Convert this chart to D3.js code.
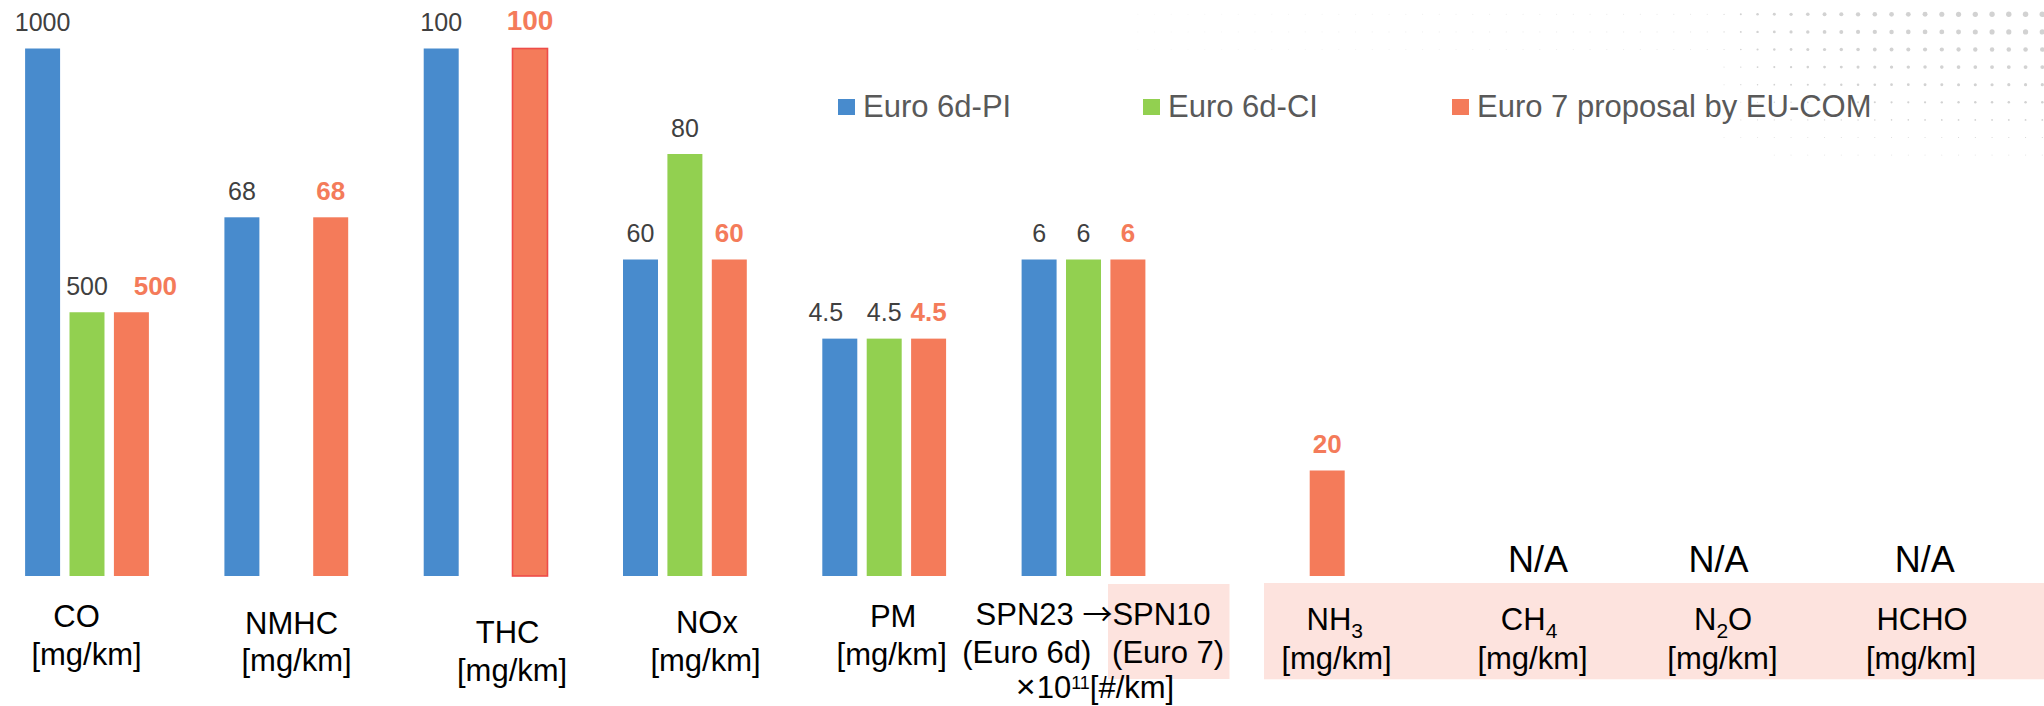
<!DOCTYPE html>
<html>
<head>
<meta charset="utf-8">
<script src="https://cdn.jsdelivr.net/npm/d3@7"></script>
<style>
  html, body { margin: 0; padding: 0; background: #ffffff; }
  svg { display: block; }
  text { font-family: "Liberation Sans", Arial, sans-serif; }
</style>
</head>
<body>
<script>
// ---- data ----
const categories = ["CO", "NMHC", "THC", "NOx", "PM", "SPN", "NH3", "CH4", "N2O", "HCHO"];
const seriesNames = ["Euro 6d-PI", "Euro 6d-CI", "Euro 7 proposal by EU-COM"];
const euro6dPI = [1000, 68, 100, 60, 4.5, 6, null, null, null, null];
const euro6dCI = [500, null, null, 80, 4.5, 6, null, null, null, null];
const euro7    = [500, 68, 100, 60, 4.5, 6, 20, null, null, null];
// full-height value of each category (each pollutant is drawn on its own scale)
const fullScale = [1000, 100, 100, 100, 10, 10, 100, 100, 100, 100];
const notRegulated = ["CH4", "N2O", "HCHO"];

// ---- styling ----
const W = 2044, H = 706;
const colors = ["#488BCD", "#92D050", "#F47B5A"];
const labelColors = ["#404040", "#404040", "#F47B5A"];
const baseY = 576, topY = 48.5;

const svg = d3.select("body").append("svg")
  .attr("width", W).attr("height", H);
svg.append("rect").attr("width", W).attr("height", H).attr("fill", "#fff");

// decorative dot field, top right
const dots = [];
for (let j = 0; j < 10; j++) {
  const y = -3.3 + 17.6 * j;
  for (let i = 0; i < 56; i++) {
    const x = 2042.3 - 16.75 * i;
    const dx = 2100 - x, dy = Math.abs(y - 20);
    const hx = 1 - (dx / 385) * (dx / 385);
    let r = hx > 0 ? 2.9 * Math.sqrt(hx) * Math.max(0, 1 - dy / 148) : 0;
    let op = 1;
    if (r < 0.55) {
      if (r > 0.12) { op = 0.35 + r; r = 0.55; }
      else if (j >= 1 && j <= 3 && x > 1130) {
        r = 0.6; op = 0.12 + 0.4 * (x - 1130) / 600;
      } else continue;
    }
    dots.push({ x, y, r, op });
  }
}
svg.append("g").selectAll("circle").data(dots).join("circle")
  .attr("cx", d => d.x).attr("cy", d => d.y).attr("r", d => d.r)
  .attr("fill", "#d2d2d2").attr("opacity", d => d.op);

// pink backdrop of the new Euro 7 items
const pink = "#FDE3DE";
svg.append("rect").attr("x", 1108).attr("y", 584).attr("width", 121.5).attr("height", 95).attr("fill", pink);
svg.append("rect").attr("x", 1264).attr("y", 583).attr("width", W - 1264).attr("height", 96.3).attr("fill", pink);

// ---- scales ----
const x0 = d3.scaleBand().domain(categories).range([-12.65, 1980.35]);
const x1 = d3.scaleBand().domain(seriesNames)
  .range([x0.bandwidth() / 2 - 66.6, x0.bandwidth() / 2 + 66.6])
  .paddingInner(0.212).paddingOuter(0.106);
const yScales = fullScale.map(m => d3.scaleLinear().domain([0, m]).range([baseY, topY]));

const seriesValues = [euro6dPI, euro6dCI, euro7];
const bars = [];
seriesValues.forEach((vals, si) => {
  vals.forEach((v, ci) => {
    if (v == null) return;
    bars.push({ si, ci, cat: categories[ci], s: seriesNames[si], v });
  });
});

// bars
const outlineRed = { "Euro 7 proposal by EU-COM|THC": "#EE4C48" };
svg.append("g").selectAll("rect").data(bars).join("rect")
  .attr("x", d => x0(d.cat) + x1(d.s))
  .attr("width", x1.bandwidth())
  .attr("y", d => yScales[d.ci](d.v))
  .attr("height", d => baseY - yScales[d.ci](d.v))
  .attr("fill", d => colors[d.si])
  .attr("stroke", d => outlineRed[d.s + "|" + d.cat] || "none")
  .attr("stroke-width", 1.6);

// value labels
const labelNudge = {
  "Euro 7 proposal by EU-COM|CO": { dx: 24 },
  "Euro 6d-PI|PM": { dx: -14 },
  "Euro 7 proposal by EU-COM|THC": { size: 28, dy: -1 }
};
svg.append("g").selectAll("text").data(bars).join("text")
  .attr("x", d => x0(d.cat) + x1(d.s) + x1.bandwidth() / 2 + ((labelNudge[d.s + "|" + d.cat] || {}).dx || 0))
  .attr("y", d => yScales[d.ci](d.v) - 17.5 + ((labelNudge[d.s + "|" + d.cat] || {}).dy || 0))
  .attr("text-anchor", "middle")
  .attr("fill", d => labelColors[d.si])
  .attr("font-weight", d => d.si === 2 ? "bold" : "normal")
  .attr("font-size", d => (labelNudge[d.s + "|" + d.cat] || {}).size || (d.si === 2 ? 26 : 25))
  .text(d => String(d.v));

// N/A marks
svg.append("g").selectAll("text").data(notRegulated).join("text")
  .attr("x", c => x0(c) + x0.bandwidth() / 2 + ({ CH4: 56, N2O: 37, HCHO: 44 })[c])
  .attr("y", 571.5)
  .attr("text-anchor", "middle")
  .attr("font-size", 36)
  .attr("fill", "#000")
  .text("N/A");

// ---- category labels ----
const center = c => x0(c) + x0.bandwidth() / 2;
const catLayout = {
  CO:   { name: [["CO"]],            dx: [-10.4, -0.5], y: [627, 664.5] },
  NMHC: { name: [["NMHC"]],          dx: [5.3, 10.3],   y: [634, 670.5] },
  THC:  { name: [["THC"]],           dx: [22, 26.5],    y: [642.7, 680.5] },
  NOx:  { name: [["NOx"]],           dx: [22, 20.6],    y: [633, 670.5] },
  PM:   { name: [["PM"]],            dx: [9, 7.5],      y: [627, 664.5] },
  NH3:  { name: [["NH"], ["3", "sub"]],  dx: [52, 53.7], y: [630, 668.5] },
  CH4:  { name: [["CH"], ["4", "sub"]],  dx: [47, 50.4], y: [630, 668.5] },
  N2O:  { name: [["N"], ["2", "sub"], ["O"]], dx: [41.7, 41], y: [630, 668.5] },
  HCHO: { name: [["HCHO"]],          dx: [41.4, 40.4],  y: [630, 668.5] }
};
const lab = svg.append("g").attr("fill", "#000").attr("font-size", 31);
Object.entries(catLayout).forEach(([c, L]) => {
  const t = lab.append("text")
    .attr("x", center(c) + L.dx[0]).attr("y", L.y[0])
    .attr("text-anchor", "middle");
  let shifted = false;
  L.name.forEach(([s, kind]) => {
    const ts = t.append("tspan").text(s);
    if (kind === "sub") { ts.attr("font-size", 21).attr("dy", 8); shifted = true; }
    else if (shifted) { ts.attr("dy", -8); shifted = false; }
  });
  lab.append("text")
    .attr("x", center(c) + L.dx[1]).attr("y", L.y[1])
    .attr("text-anchor", "middle")
    .text("[mg/km]");
});

// particle number label spans both regulations
const spn = center("SPN");
const l1 = lab.append("text").attr("x", spn + 9.6).attr("y", 625).attr("text-anchor", "middle");
l1.append("tspan").text("SPN23 ");
l1.append("tspan").attr("font-family", "'Noto Sans CJK JP', sans-serif").attr("font-size", 30).text("→");
l1.append("tspan").text("SPN10");
lab.append("text").attr("x", spn - 56.7).attr("y", 662.5).attr("text-anchor", "middle").text("(Euro 6d)");
lab.append("text").attr("x", spn + 84.6).attr("y", 662.5).attr("text-anchor", "middle").text("(Euro 7)");
const l3 = lab.append("text").attr("x", spn + 11.5).attr("y", 698.3).attr("text-anchor", "middle");
l3.append("tspan").attr("font-size", 34).text("×");
l3.append("tspan").attr("dx", 1).text("10");
l3.append("tspan").attr("font-size", 18).attr("dy", -9).text("11");
l3.append("tspan").attr("dy", 9).text("[#/km]");

// ---- legend ----
const legendX = [838, 1143, 1452];
const leg = svg.append("g").selectAll("g").data(seriesNames).join("g")
  .attr("transform", (d, i) => `translate(${legendX[i]},0)`);
leg.append("rect").attr("x", 0).attr("y", 99).attr("width", 17).attr("height", 16)
  .attr("fill", (d, i) => colors[i]);
leg.append("text").attr("x", 25).attr("y", 116.5)
  .attr("font-size", 31).attr("fill", "#595959")
  .text(d => d);
</script>
</body>
</html>
